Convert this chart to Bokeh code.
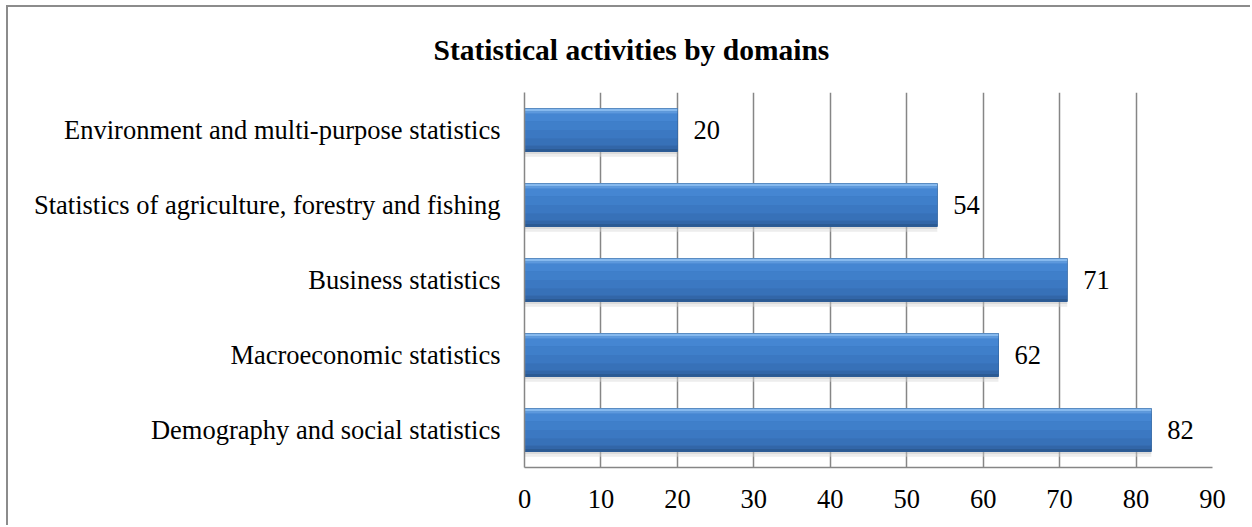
from bokeh.plotting import figure
from bokeh.models import ColumnDataSource, FactorRange, Range1d, FixedTicker, Title
from bokeh.transform import dodge
from bokeh.core.properties import value
from bokeh.embed import file_html
from bokeh.resources import INLINE

# ---- data ----
categories = [
    "Demography and social statistics",
    "Macroeconomic statistics",
    "Business statistics",
    "Statistics of agriculture, forestry and fishing",
    "Environment and multi-purpose statistics",
]
counts = [82, 62, 71, 54, 20]
x_ticks = [0, 10, 20, 30, 40, 50, 60, 70, 80, 90]
title_text = "Statistical activities by domains"

src = ColumnDataSource(dict(cat=categories, val=counts, lab=[str(v) for v in counts]))

FONT = "Liberation Serif"
GRID = "#868686"

p = figure(
    width=1244, height=520,
    y_range=FactorRange(factors=categories),
    x_range=Range1d(x_ticks[0], x_ticks[-1]),
    output_backend="svg", toolbar_location=None,
    min_border_left=516, min_border_right=40,
    min_border_top=85, min_border_bottom=60,
)
p.margin = (5, 0, 0, 6)
p.styles = {"border-left": "2px solid #8c8c8c", "border-top": "2px solid #8c8c8c"}
p.outline_line_color = None
p.background_fill_color = "white"
p.border_fill_color = "white"

t = Title(text=title_text, align="left", offset=-91, standoff=50, vertical_align="top",
          text_font=FONT, text_font_size="29.5px", text_font_style="bold",
          text_color="black")
p.add_layout(t, "above")

# bars: shadow + body + gradient strips (fractions of bar height, from top)
H = 0.573
half = H / 2
shadow = [(0.0, 0.035, "#bdbdbd", 0.55), (0.035, 0.07, "#d6d6d6", 0.45)]
for a, b, col, alpha in shadow:
    p.hbar(y=dodge("cat", -half - (a + b) / 2, range=p.y_range), right="val", left=0,
           height=b - a, source=src, fill_color=col, fill_alpha=alpha, line_color=None)

p.hbar(y="cat", right="val", left=0, height=H, source=src,
       fill_color="#3a76be", line_color="#2f5f97", line_width=1)
strips = [
    (0.00, 0.07, "#86b9ee"),
    (0.07, 0.12, "#5d99de"),
    (0.12, 0.30, "#4586d2"),
    (0.30, 0.50, "#3f7fca"),
    (0.50, 0.70, "#3b78c2"),
    (0.70, 0.86, "#3771b8"),
    (0.86, 0.94, "#3266a8"),
    (0.94, 1.00, "#2b5a93"),
]
for a, b, col in strips:
    center = half - H * (a + b) / 2
    p.hbar(y=dodge("cat", center, range=p.y_range), right="val", left=0,
           height=H * (b - a), source=src, fill_color=col, line_color=None)

# value labels
p.text(x="val", y="cat", text="lab", source=src, x_offset=16,
       text_font=value(FONT), text_font_size="26.5px", text_color="black",
       text_baseline="middle", text_align="left")

# axes
p.xaxis.ticker = FixedTicker(ticks=x_ticks)
for ax in (p.xaxis[0], p.yaxis[0]):
    ax.major_label_text_font = FONT
    ax.major_label_text_font_size = "26.5px"
    ax.major_label_text_color = "black"
    ax.axis_line_color = GRID
    ax.axis_line_width = 1.5
    ax.major_tick_line_color = None
    ax.minor_tick_line_color = None
p.xaxis.major_label_standoff = 16
p.yaxis.major_label_standoff = 18

p.xgrid.grid_line_color = GRID
p.xgrid.grid_line_width = 1.5
p.xgrid.ticker = FixedTicker(ticks=x_ticks)
p.ygrid.grid_line_color = None

open("out.html", "w").write(file_html(p, INLINE))
